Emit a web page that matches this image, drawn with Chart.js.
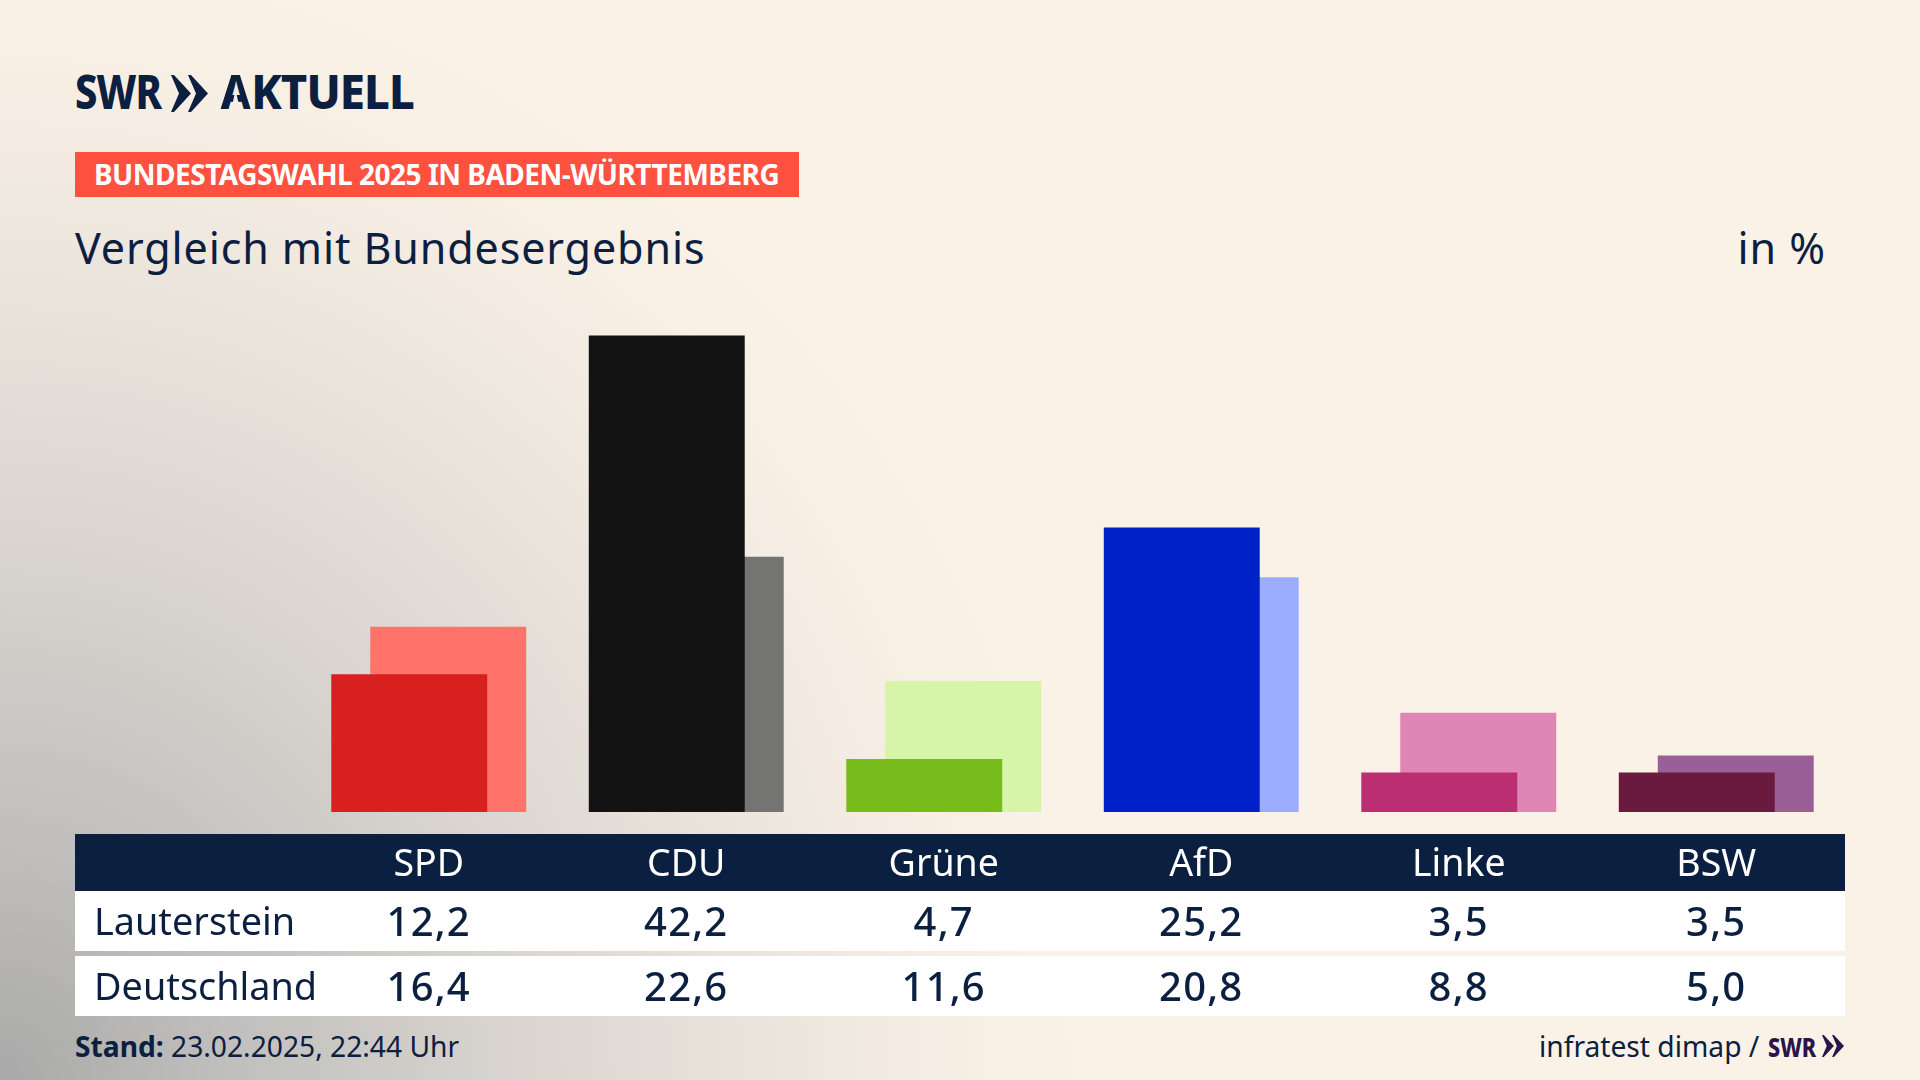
<!DOCTYPE html>
<html lang="de">
<head>
<meta charset="utf-8">
<title>Vergleich mit Bundesergebnis</title>
<script src="https://cdn.jsdelivr.net/npm/chart.js@4"></script>
<style>
html,body{margin:0;padding:0;width:1920px;height:1080px;overflow:hidden}
body{position:relative;font-family:"Noto Sans",sans-serif;color:#0b2040;
background:radial-gradient(ellipse 1200px 1250px at 0% 100%, #a9a9a9 0%, #c0bfbd 19%, #d6d2cd 40%, #e6e0d9 58%, #f4ece2 75%, #fbf2e7 90%);}
.abs{position:absolute;white-space:nowrap}
canvas{position:absolute;left:0;top:0;z-index:2}
.band{position:absolute;left:75px;width:1770px;z-index:1}
.val{position:absolute;transform:translateX(-50%);font-size:40px;font-weight:500;line-height:50px;letter-spacing:1.2px;z-index:3;white-space:nowrap}
.rowlabel{position:absolute;left:94px;font-size:37.8px;line-height:50px;z-index:3;white-space:nowrap}
</style>
</head>
<body>
<div class="abs" id="logo" style="left:75px;top:58px;font-size:48px;font-weight:800;line-height:66px;letter-spacing:-1px;transform:scaleX(.83);transform-origin:0 0">SWR</div>
<svg class="abs" style="left:171px;top:75px" width="37" height="37" viewBox="0 0 37 37"><path fill="#0b2040" d="M0 0H3L20 18.5 3 37H0L8 18.5zM17 0H20L37 18.5 20 37H17L25 18.5z"/></svg>
<div class="abs" id="logo2" style="left:220px;top:58px;font-size:48px;font-weight:800;line-height:66px;letter-spacing:-1px;transform:scaleX(.945);transform-origin:0 0"><span style="display:inline-block;clip-path:polygon(0 100%,0 80%,40% 20%,60% 20%,100% 80%,100% 100%,74% 100%,50% 48%,26% 100%)">A</span>KTUELL</div>
<div class="abs" style="left:75px;top:152px;width:724px;height:45px;background:#ff5140"></div>
<div class="abs" id="kicker" style="left:94px;top:152px;color:#fff;font-size:28px;font-weight:700;line-height:45px;letter-spacing:-.5px">BUNDESTAGSWAHL 2025 IN BADEN-WÜRTTEMBERG</div>
<div class="abs" id="title" style="left:75px;top:218px;font-size:43px;line-height:60px;letter-spacing:.9px">Vergleich mit Bundesergebnis</div>
<div class="abs" style="right:94px;top:218px;font-size:43px;line-height:60px;letter-spacing:1px">in %</div>

<div class="band" style="top:834px;height:57px;background:#0b2040"></div>
<div class="band" style="top:891px;height:60px;background:#fff"></div>
<div class="band" style="top:956px;height:60px;background:#fff"></div>

<div id="rows"></div>

<div class="abs" style="left:75px;top:1027px;font-size:28.2px;line-height:38px"><b>Stand:</b> 23.02.2025, 22:44 Uhr</div>
<div class="abs" style="left:1539px;top:1026px;font-size:28.2px;line-height:40px">infratest dimap /</div>
<div class="abs" style="left:1768px;top:1029px;font-size:27px;font-weight:800;line-height:36px;color:#2a1548;transform:scaleX(.8);transform-origin:0 0">SWR</div>
<svg class="abs" style="left:1822px;top:1035px" width="22" height="22" viewBox="0 0 37 37"><path fill="#2a1548" d="M0 0H3L20 18.5 3 37H0L8 18.5zM17 0H20L37 18.5 20 37H17L25 18.5z"/></svg>

<canvas id="chart" width="1920" height="1080"></canvas>

<script>
const parties = ["SPD", "CDU", "Grüne", "AfD", "Linke", "BSW"];
const lauterstein = [12.2, 42.2, 4.7, 25.2, 3.5, 3.5];
const deutschland = [16.4, 22.6, 11.6, 20.8, 8.8, 5.0];
const strongColors = ["#d8201e", "#131313", "#78bc1b", "#0020c8", "#bc2e72", "#6a1a3f"];
const lightColors = ["#ff736b", "#747472", "#d6f5a8", "#9cadff", "#df86b5", "#9b5f97"];
const rowNames = ["Lauterstein", "Deutschland"];

const chart = new Chart(document.getElementById("chart"), {
  type: "bar",
  data: {
    labels: parties,
    datasets: [
      { label: rowNames[0], data: lauterstein, backgroundColor: strongColors },
      { label: rowNames[1], data: deutschland, backgroundColor: lightColors }
    ]
  },
  options: {
    responsive: false,
    animation: false,
    devicePixelRatio: 1,
    categoryPercentage: 0.3028,
    barPercentage: 4,
    layout: { padding: { left: 300, right: 75, top: 247.5, bottom: 148 } },
    plugins: { legend: { display: false }, tooltip: { enabled: false } },
    scales: {
      x: {
        grid: { display: false },
        border: { display: false },
        afterFit: s => { s.height = 120; },
        ticks: { color: "#ffffff", padding: 22.5, maxRotation: 0, font: { family: "'Noto Sans'", size: 37.5 } }
      },
      y: { display: false, min: 0, max: 50 }
    }
  }
});

const rowsEl = document.getElementById("rows");
const fmt = v => v.toFixed(1).replace(".", ",");
[[lauterstein, 896], [deutschland, 961]].forEach(([vals, top], r) => {
  const lab = document.createElement("div");
  lab.className = "rowlabel"; lab.style.top = top + "px"; lab.textContent = rowNames[r];
  rowsEl.appendChild(lab);
  vals.forEach((v, i) => {
    const d = document.createElement("div");
    d.className = "val"; d.style.top = top + "px";
    d.style.left = chart.scales.x.getPixelForValue(i) + "px";
    d.textContent = fmt(v);
    rowsEl.appendChild(d);
  });
});
</script>
</body>
</html>
